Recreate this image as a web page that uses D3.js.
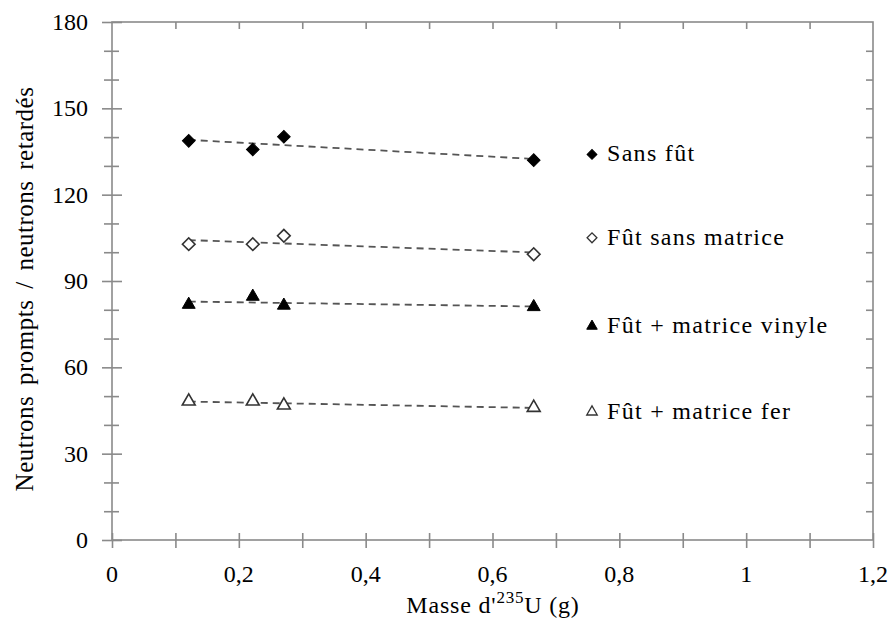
<!DOCTYPE html>
<html><head><meta charset="utf-8">
<script src="https://cdn.jsdelivr.net/npm/d3@7"></script>
<style>body{margin:0;background:#fff}svg{display:block}
text{font-family:"Liberation Serif","Times New Roman",Tinos,"DejaVu Serif",serif}</style>
</head><body><svg id="c" width="894" height="624"></svg>
<script>
const masses = [0.121, 0.222, 0.271, 0.665];
const sansFut = [138.7, 135.7, 140.1, 132.0];
const futSansMatrice = [102.8, 102.8, 105.7, 99.3];
const futVinyle = [81.8, 84.6, 81.5, 81.0];
const futFer = [48.2, 48.2, 46.8, 46.0];
const seriesNames = ["Sans fût", "Fût sans matrice", "Fût + matrice vinyle", "Fût + matrice fer"];
const legendValues = [134, 105, 74.3, 44.5];
const xTickLabels = ["0", "0,2", "0,4", "0,6", "0,8", "1", "1,2"];
const yTickLabels = ["0", "30", "60", "90", "120", "150", "180"];

const series = [
  {name: seriesNames[0], values: sansFut, shape: "diamond", filled: true},
  {name: seriesNames[1], values: futSansMatrice, shape: "diamond", filled: false},
  {name: seriesNames[2], values: futVinyle, shape: "triangle", filled: true},
  {name: seriesNames[3], values: futFer, shape: "triangle", filled: false}
];

const svg = d3.select("#c");
const L = 112, R = 873, T = 22, B = 540;
const x = d3.scaleLinear().domain([0, 1.2]).range([L, R]);
const y = d3.scaleLinear().domain([0, 180]).range([B, T]);
const axisColor = "#8a8a8a";

const xMinor = d3.range(0, 13).map(i => i / 10);
const yMinor = d3.range(0, 19).map(i => i * 10);

const g = svg.append("g");
g.append("rect").attr("x", L).attr("y", T).attr("width", R - L).attr("height", B - T)
  .attr("fill", "none").attr("stroke", axisColor).attr("stroke-width", 1.6);

const gx = g.append("g").attr("transform", `translate(0,${B})`)
  .call(d3.axisBottom(x).tickValues(xMinor).tickSize(8).tickFormat(""));
gx.select(".domain").remove();
gx.selectAll(".tick line").attr("y1", -7).attr("stroke", axisColor).attr("stroke-width", 1.6);
g.append("g").selectAll("text").data(xTickLabels).join("text")
  .attr("x", (d, i) => x(i * 0.2)).attr("y", 582)
  .attr("text-anchor", "middle").attr("font-size", 24)
  .attr("fill", "#000").text(d => d);

const gt = g.append("g").attr("transform", `translate(0,${T})`)
  .call(d3.axisBottom(x).tickValues(xMinor.slice(1, -1)).tickSize(7).tickFormat(""));
gt.select(".domain").remove();
gt.selectAll(".tick line").attr("stroke", axisColor).attr("stroke-width", 1.6);

const gy = g.append("g").attr("transform", `translate(${L},0)`)
  .call(d3.axisLeft(y).tickValues(yMinor).tickSize(8).tickFormat(""));
gy.select(".domain").remove();
gy.selectAll(".tick line").attr("x2", d => d % 30 === 0 ? -10 : -8).attr("x1", d => d % 30 === 0 ? 10 : 7)
  .attr("stroke", axisColor).attr("stroke-width", 1.6);
g.append("g").selectAll("text").data(yTickLabels).join("text")
  .attr("x", 88).attr("y", (d, i) => y(i * 30) + 8)
  .attr("text-anchor", "end").attr("font-size", 24)
  .attr("fill", "#000").text(d => d);

const gr = g.append("g").attr("transform", `translate(${R},0)`)
  .call(d3.axisLeft(y).tickValues(yMinor.slice(1, -1)).tickSize(7).tickFormat(""));
gr.select(".domain").remove();
gr.selectAll(".tick line").attr("stroke", axisColor).attr("stroke-width", 1.6);

const xt = svg.append("text").attr("x", 493).attr("y", 613).attr("text-anchor", "middle")
  .attr("font-size", 24).attr("letter-spacing", 0.8).attr("fill", "#000");
xt.append("tspan").text("Masse d'");
xt.append("tspan").attr("font-size", 17).attr("dy", -10).text("235");
xt.append("tspan").attr("dy", 10).text("U (g)");

svg.append("text").attr("transform", `translate(33,289) rotate(-90)`)
  .attr("text-anchor", "middle").attr("font-size", 25)
  .attr("letter-spacing", 0.5).attr("word-spacing", 4)
  .attr("fill", "#000")
  .text("Neutrons prompts / neutrons retardés");

function fit(xs, ys) {
  const mx = d3.mean(xs), my = d3.mean(ys);
  const b = d3.sum(xs, (v, i) => (v - mx) * (ys[i] - my)) / d3.sum(xs, v => (v - mx) ** 2);
  return [b, my - b * mx];
}
const x0 = d3.min(masses), x1 = d3.max(masses);
series.forEach(s => {
  const [b, a] = fit(masses, s.values);
  svg.append("line").attr("x1", x(x0)).attr("x2", x(x1))
    .attr("y1", y(a + b * x0)).attr("y2", y(a + b * x1))
    .attr("stroke", "#555").attr("stroke-width", 1.8).attr("stroke-dasharray", "7,5");
});

function symPath(shape, big) {
  if (shape === "diamond") return d3.symbol(d3.symbolSquare, big ? 80 : 48)();
  return d3.symbol(d3.symbolTriangle, big ? 72 : 48)();
}
function symTransform(shape, cx, cy) {
  return shape === "diamond" ? `translate(${cx},${cy}) rotate(45)` : `translate(${cx},${cy})`;
}

series.forEach(s => {
  svg.append("g").selectAll("path").data(s.values).join("path")
    .attr("d", symPath(s.shape, true))
    .attr("transform", (d, i) => symTransform(s.shape, x(masses[i]), y(d)))
    .attr("fill", s.filled ? "#000" : "#fff")
    .attr("stroke", s.filled ? "#000" : "#333").attr("stroke-width", s.filled ? 1 : 1.6);
});

series.forEach((s, i) => {
  const cy = y(legendValues[i]);
  svg.append("path").attr("d", symPath(s.shape, false))
    .attr("transform", symTransform(s.shape, 592, cy))
    .attr("fill", s.filled ? "#000" : "#fff")
    .attr("stroke", s.filled ? "#000" : "#333").attr("stroke-width", s.filled ? 1 : 1.3);
  svg.append("text").attr("x", 607).attr("y", cy + 7)
    .attr("font-size", 24).attr("letter-spacing", 1.3).attr("fill", "#000").text(s.name);
});
</script></body></html>
